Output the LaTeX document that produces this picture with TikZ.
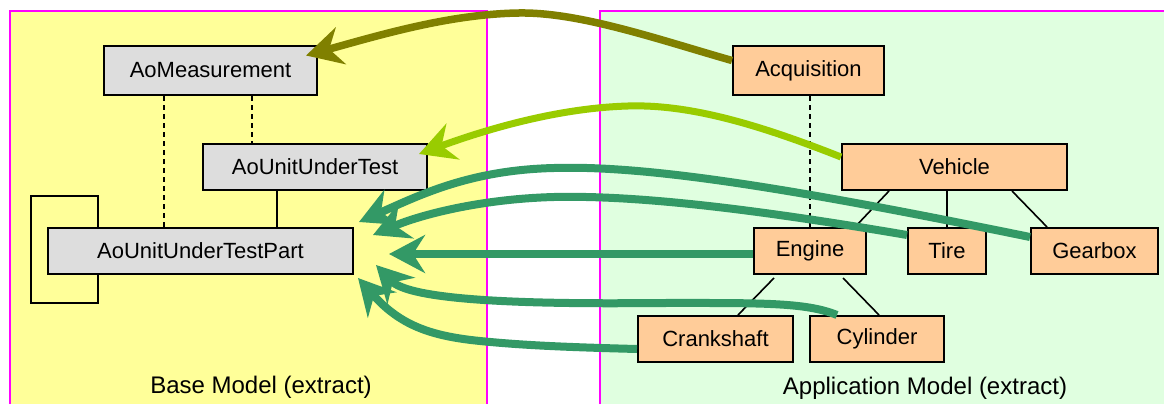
\documentclass[tikz,border=0pt]{standalone}
\usepackage{fontspec}
\setmainfont{Liberation Sans}
\usetikzlibrary{arrows.meta,calc}
\definecolor{panelY}{HTML}{FFFF99}
\definecolor{panelG}{HTML}{E0FFE0}
\definecolor{frameM}{HTML}{FF00FF}
\definecolor{boxgrey}{HTML}{DDDDDD}
\definecolor{boxor}{HTML}{FFCC99}
\definecolor{olivearr}{HTML}{808000}
\definecolor{limearr}{HTML}{99CC00}
\definecolor{greenarr}{HTML}{339966}
\begin{document}
\begin{tikzpicture}[x=1pt,y=-1pt,
  box/.style={draw=black,line width=2pt,inner sep=0pt,font=\fontsize{22}{26}\selectfont},
  basebox/.style={box,fill=boxgrey},
  appbox/.style={box,fill=boxor},
  panel/.style={draw=frameM,line width=2.2pt},
  link/.style={line width=1.6pt},
  dlink/.style={link,dash pattern=on 5pt off 4pt},
  bigarr/.style={line width=8pt,-{Stealth[length=36pt,width=38pt,inset=12pt]}},
  lab/.style={font=\fontsize{24}{28}\selectfont}]
\useasboundingbox (0,0) rectangle (1164,404);
% panels
\fill[panelY] (10,11) rectangle (487,420);
\draw[panel] (10,420) -- (10,11) -- (487,11) -- (487,420);
\fill[panelG] (600,11) rectangle (1170,420);
\draw[panel] (600,420) -- (600,11) -- (1170,11);
% base model boxes
\node[basebox,minimum width=213pt,minimum height=49pt] (meas) at (210.5,70.5) {AoMeasurement};
\node[basebox,minimum width=224pt,minimum height=46pt] (uut) at (315,167) {AoUnitUnderTest};
\node[basebox,minimum width=305pt,minimum height=46pt] (part) at (200.5,251) {AoUnitUnderTestPart};
% application model boxes
\node[appbox,minimum width=151pt,minimum height=49pt] (acq) at (808.5,70.5) {Acquisition};
\node[appbox,minimum width=225pt,minimum height=46pt] (veh) at (954.5,167) {Vehicle};
\node[appbox,minimum width=112pt,minimum height=46pt] (eng) at (810,251) {Engine};
\node[appbox,minimum width=78pt,minimum height=46pt] (tire) at (947,251) {Tire};
\node[appbox,minimum width=127pt,minimum height=46pt] (gear) at (1094.5,251) {Gearbox};
\node[appbox,minimum width=155pt,minimum height=46pt] (crank) at (715.5,339) {Crankshaft};
\node[appbox,minimum width=134pt,minimum height=46pt] (cyl) at (877,339) {Cylinder};
% helper x positions
\coordinate (xd1) at (164,0);
\coordinate (xd2) at (252,0);
\coordinate (xs1) at (277,0);
\coordinate (xloop) at (98,0);
% base model links
\draw[dlink] (xd1 |- meas.south) -- (xd1 |- part.north);
\draw[dlink] (xd2 |- meas.south) -- (xd2 |- uut.north);
\draw[link] (xs1 |- uut.south) -- (xs1 |- part.north);
\draw[link] (xloop |- part.north) -- ++(0,-31) -- ++(-67,0) -- ++(0,107) -- ++(67,0) -- (xloop |- part.south);
% application model links
\draw[dlink] (eng.north |- acq.south) -- (eng.north);
\draw[link] ($(veh.south west)+(48,0)$) -- ($(eng.north east)+(-12,0)$);
\draw[link] (tire.north |- veh.south) -- (tire.north);
\draw[link] ($(veh.south east)+(-56,0)$) -- ($(gear.north west)+(17,0)$);
\draw[link] ($(eng.south west)+(21,3)$) -- ($(crank.north east)+(-56,0)$);
\draw[link] ($(eng.south east)+(-24,3)$) -- ($(cyl.north west)+(70,0)$);
% mapping arrows
\draw[bigarr,line width=7.5pt,olivearr] ($(acq.west)+(0,-10)$) .. controls (660,40) and (580,12) .. (519,13)
  .. controls (450,14) and (380,35) .. ($(meas.east)+(-12,-15)$);
\draw[bigarr,line width=7pt,limearr] ($(veh.west)+(0,-10)$) .. controls (760,125) and (690,104) .. (628,106)
  .. controls (560,108) and (490,128) .. ($(uut.east)+(-9,-13)$);
\draw[bigarr,greenarr] ($(gear.west)+(0,-14)$) .. controls (800,190) and (650,165) .. (554,168)
  .. controls (470,170) and (420,195) .. ($(part.east)+(5,-29)$);
\draw[bigarr,greenarr] ($(tire.west)+(0,-16)$) .. controls (760,210) and (640,195) .. (554,197)
  .. controls (480,199) and (420,215) .. ($(part.east)+(19,-16)$);
\draw[bigarr,greenarr] ($(eng.west)+(0,3)$) -- ($(part.east)+(35,3)$);
\draw[bigarr,greenarr] ($(cyl.north west)+(28,0)$) .. controls (805,302) and (760,303) .. (655,303)
  .. controls (470,305) and (405,295) .. ($(part.east)+(22,14)$);
\draw[bigarr,greenarr] ($(crank.west)+(0,10)$) .. controls (560,347) and (520,345) .. (480,341)
  .. controls (430,336) and (400,325) .. ($(part.east)+(4,27)$);
% panel labels
\node[lab] (baselab) at (261,387) {Base Model (extract)};
\node[lab] (applab) at (925,388) {Application Model (extract)};
\end{tikzpicture}
\end{document}
